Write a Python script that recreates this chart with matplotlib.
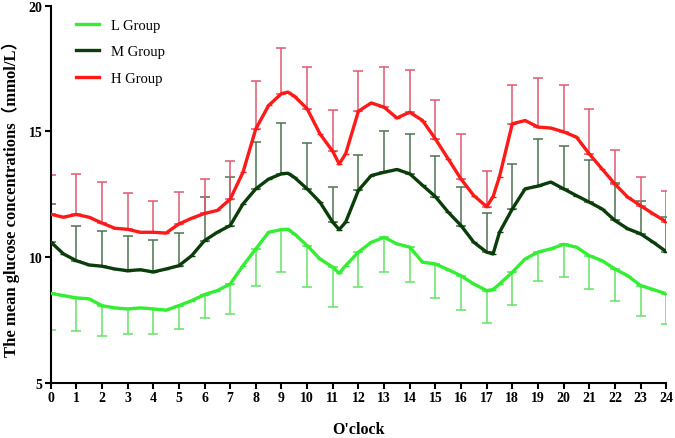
import numpy as np
import matplotlib.pyplot as plt

# half-hour readings plus a few extra points at the turning points
t = [0, 0.5, 1, 1.5, 2, 2.5, 3, 3.5, 4, 4.5, 5, 5.5, 6, 6.5, 7, 7.5, 8, 8.5, 9, 9.25, 9.5,
     10, 10.5, 11, 11.25, 11.5, 12, 12.5, 13, 13.5, 14, 14.5, 15, 15.5, 16, 16.5, 17, 17.25,
     17.5, 18, 18.5, 19, 19.5, 20, 20.5, 21, 21.5, 22, 22.5, 23, 23.5, 24]

L_mean = [8.55, 8.46, 8.37, 8.33, 8.06, 7.97, 7.93, 7.97, 7.93, 7.88, 8.06, 8.26, 8.5, 8.66,
          8.92, 9.65, 10.32, 10.98, 11.09, 11.1, 10.92, 10.45, 9.92, 9.59, 9.35, 9.65, 10.19,
          10.58, 10.78, 10.52, 10.39, 9.79, 9.72, 9.49, 9.25, 8.92, 8.66, 8.7, 8.92, 9.39, 9.92,
          10.19, 10.32, 10.5, 10.39, 10.05, 9.85, 9.52, 9.25, 8.86, 8.7, 8.53]
M_mean = [10.6, 10.12, 9.85, 9.68, 9.63, 9.52, 9.45, 9.49, 9.4, 9.52, 9.65, 10.05, 10.65, 10.98,
          11.25, 12.11, 12.71, 13.1, 13.31, 13.33, 13.17, 12.71, 12.18, 11.38, 11.09, 11.38,
          12.65, 13.24, 13.37, 13.48, 13.31, 12.85, 12.4, 11.78, 11.25, 10.58, 10.19, 10.12,
          10.98, 11.91, 12.71, 12.82, 12.98, 12.71, 12.44, 12.18, 11.91, 11.45, 11.12, 10.92,
          10.58, 10.21]
H_mean = [11.7, 11.58, 11.69, 11.58, 11.35, 11.14, 11.1, 10.98, 10.98, 10.95, 11.31, 11.54,
          11.73, 11.85, 12.3, 13.37, 15.1, 16.03, 16.5, 16.56, 16.4, 15.9, 14.9, 14.2, 13.7,
          14.1, 15.8, 16.13, 15.96, 15.53, 15.76, 15.43, 14.7, 13.9, 13.1, 12.44, 12.0, 12.4,
          13.2, 15.3, 15.43, 15.17, 15.13, 14.98, 14.77, 14.1, 13.5, 12.9, 12.38, 12.04, 11.71,
          11.4]

# hourly SD (one-sided bars)
hours = list(range(25))
L_sd = [1.46, 1.32, 1.22, 1.0, 1.0, 0.93, 0.92, 1.19, 1.46, 1.7, 1.66, 1.59, 1.39, 1.39, 1.4,
        1.35, 1.35, 1.29, 1.29, 1.16, 1.31, 1.33, 1.29, 1.23, 1.22]
M_sd = [1.51, 1.4, 1.39, 1.37, 1.29, 1.31, 1.73, 1.95, 1.86, 2.02, 1.82, 1.4, 1.39, 1.66, 1.59,
        1.6, 1.55, 1.55, 1.79, 1.88, 1.72, 1.66, 1.5, 1.3, 1.39]
H_sd = [1.57, 1.62, 1.65, 1.44, 1.25, 1.27, 1.37, 1.5, 1.9, 1.8, 1.67, 1.63, 1.6, 1.61, 1.69,
        1.53, 1.8, 1.44, 1.55, 1.95, 1.87, 1.8, 1.36, 1.16, 1.22]

serif = ['Liberation Serif', 'Noto Sans CJK SC']

fig = plt.figure(figsize=(6.75, 4.39), dpi=100)
ax = fig.add_axes([0.075, 0.1264, 0.912, 0.8583])


def at_hours(vals):
    return [v for x, v in zip(t, vals) if float(x).is_integer()]


series = [
    ('L Group', L_mean, L_sd, '#33ee33', '#66e266', 'down'),
    ('M Group', M_mean, M_sd, '#0b3d0b', '#4d7352', 'up'),
    ('H Group', H_mean, H_sd, '#ff1a1a', '#dd5a72', 'up'),
]

for name, m, sd, c, ec, side in series:
    hm = at_hours(m)
    z = [0] * len(sd)
    yerr = [sd, z] if side == 'down' else [z, sd]
    ax.errorbar(hours, hm, yerr=yerr, fmt='none', ecolor=ec, elinewidth=1.1,
                capsize=3.5, capthick=1.1, zorder=2)
    ax.plot(t, m, color=c, lw=2.4, marker='_', ms=5, mew=1.0, label=name, zorder=3)

ax.set_xlim(0, 24)
ax.set_ylim(5, 20)
ax.set_xticks(range(25))
ax.set_yticks([5, 10, 15, 20])
for s in ['top', 'right']:
    ax.spines[s].set_visible(False)
for s in ['left', 'bottom']:
    ax.spines[s].set_linewidth(1.5)
ax.tick_params(width=1.5, length=4, direction='out', pad=2)
for lab in ax.get_xticklabels() + ax.get_yticklabels():
    lab.set_family(serif)
    lab.set_fontweight('bold')
    lab.set_fontsize(10)

ax.set_xlabel("O'clock", family=serif, fontweight='bold', fontsize=11.5, labelpad=12)
ax.set_ylabel('The mean glucose concentrations（mmol/L）', family=serif, fontweight='bold',
              fontsize=12, labelpad=6)

leg = ax.legend(loc='upper left', bbox_to_anchor=(0.02, 1.0), frameon=False,
                handlelength=1.6, labelspacing=0.9, prop={'family': serif, 'size': 10.5})

fig.savefig('out.png', dpi=100)
